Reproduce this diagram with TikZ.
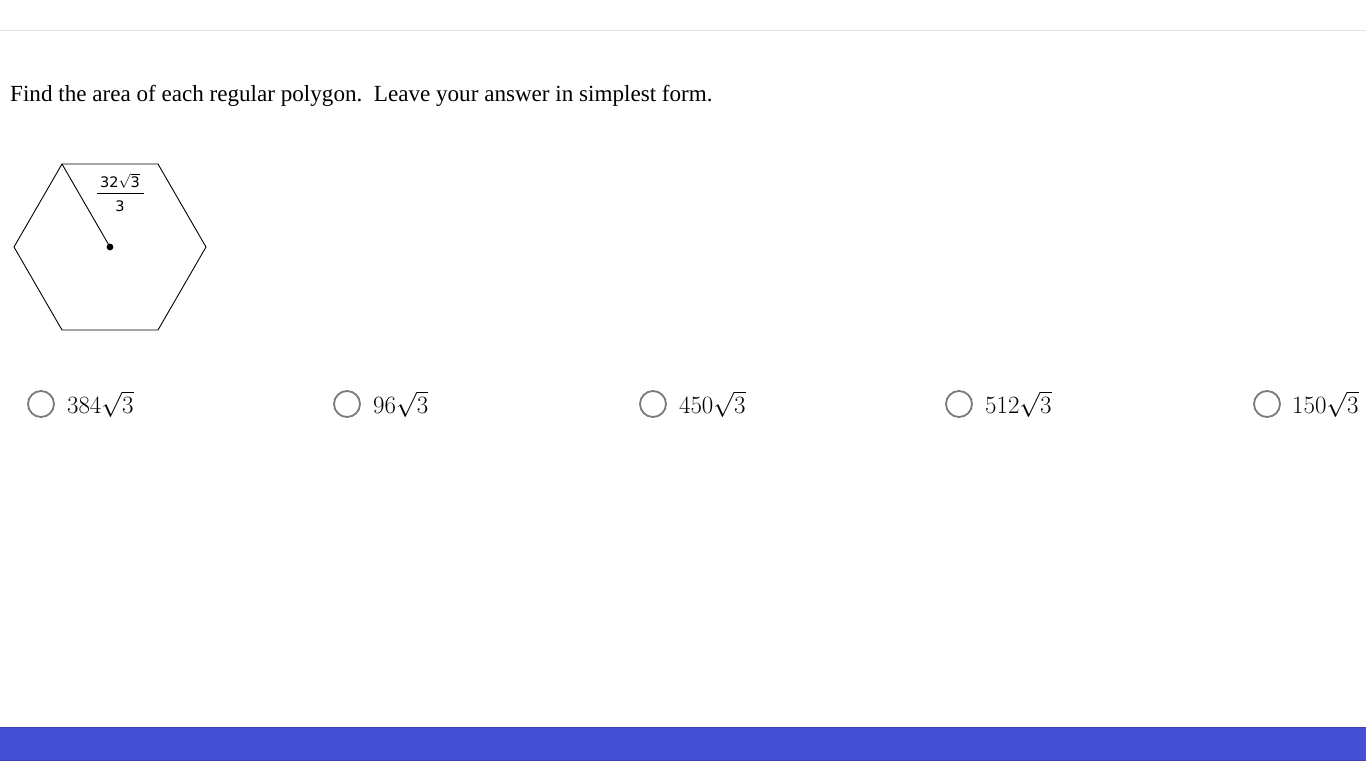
\documentclass[tikz,border=0pt]{standalone}
\usepackage{amsmath}
\usepackage{amsfonts}
\usepackage{fontspec}
\setmainfont{Liberation Serif}
\newfontfamily\labelfont{DejaVu Sans}
\definecolor{barblue}{HTML}{4550D6}
\definecolor{bardark}{HTML}{3A42B0}
\definecolor{ringgray}{HTML}{7A7A7A}
\tikzset{
	choice/.style={circle,draw=ringgray,line width=1.8pt,minimum size=26pt,inner sep=0pt},
	answer/.style={anchor=west,inner sep=0pt,font=\fontsize{26}{28}\selectfont},
	fracpart/.style={inner sep=0pt,font=\labelfont\fontsize{14.5}{16}\selectfont}
}
\begin{document}
\begin{tikzpicture}[x=1pt,y=-1pt]
				\useasboundingbox (0,0) rectangle (1366,768);
				\fill[white](0,0) rectangle (1366,768);
				\draw[color=black!12,line width=1.5pt](0,30.5) -- (1366,30.5);
				\fill[color=barblue](0,727) rectangle (1366,761);
				\draw[color=bardark,line width=1pt](0,727.5) -- (1366,727.5);
				\draw[color=bardark,line width=1pt](0,760.5) -- (1366,760.5);
				\node[anchor=base west,inner sep=0pt,font=\fontsize{23.1}{25}\selectfont] (question) at (10,101)
					{Find the area of each regular polygon.\ \ Leave your answer in simplest form.};
				% hexagon
				\coordinate (v1) at (62,164);
				\coordinate (v2) at (158,164);
				\coordinate (v3) at (206,247);
				\coordinate (v4) at (158,330);
				\coordinate (v5) at (62,330);
				\coordinate (v6) at (14,247);
				\coordinate (centre) at (110,247);
				\draw[line width=0.9pt](v1) -- (v2) -- (v3) -- (v4) -- (v5) -- (v6) -- cycle;
				\draw[line width=0.9pt](v1) -- (centre);
				\fill (centre) circle (3.4);
				% radius label
				\node[fracpart] (num) at (120,181) {32$\sqrt{\text{3}}$};
				\node[fracpart] (den) at (120,206) {3};
				\coordinate (barl) at (97,193.5);
				\coordinate (barr) at (144,193.5);
				\draw[line width=0.6pt](barl) -- (barr);
				% choices
				\node[choice] (c1) at (41,404) {};
				\node[choice] (c2) at (347,404) {};
				\node[choice] (c3) at (653,404) {};
				\node[choice] (c4) at (959,404) {};
				\node[choice] (c5) at (1267,404) {};
				\node[answer] (a1) at (67,404) {$384\sqrt{3}$};
				\node[answer] (a2) at (373,404) {$96\sqrt{3}$};
				\node[answer] (a3) at (679,404) {$450\sqrt{3}$};
				\node[answer] (a4) at (985,404) {$512\sqrt{3}$};
				\node[answer] (a5) at (1292,404) {$150\sqrt{3}$};
\end{tikzpicture}
\end{document}
